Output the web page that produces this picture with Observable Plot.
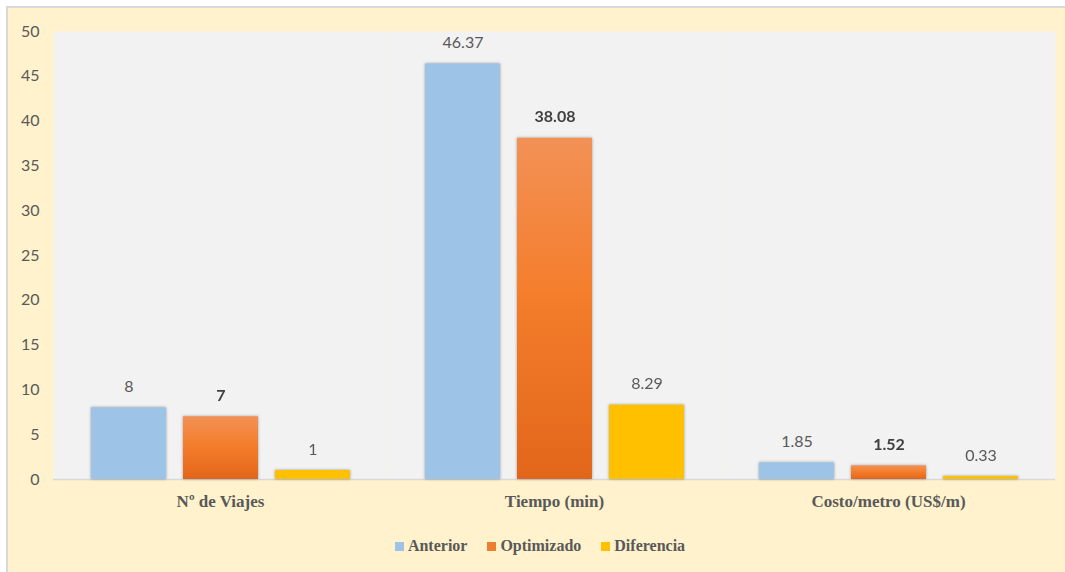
<!DOCTYPE html>
<html>
<head>
<meta charset="utf-8">
<script src="https://cdn.jsdelivr.net/npm/d3@7"></script>
<script src="https://cdn.jsdelivr.net/npm/@observablehq/plot@0.6"></script>
<style>
  html, body { margin: 0; padding: 0; background: #ffffff; width: 1065px; height: 572px; overflow: hidden; }
  #box { position: absolute; left: 6px; top: 6px; width: 1059px; height: 566px; background: #fff2cc;
         border-top: 2px solid #d9d9d9; border-left: 2px solid #d9d9d9; box-sizing: border-box; }
  #chart svg { display: block; }
  #legend { display: flex; justify-content: center; align-items: center; gap: 20px; margin-top: 24px;
            font-family: "Liberation Serif", serif; font-weight: bold; font-size: 16px; color: #595959; padding-left: 7px; }
  #legend .item { display: flex; align-items: center; gap: 4px; }
  #legend .sw { width: 9px; height: 9px; display: inline-block; }
</style>
</head>
<body>
<div id="box">
  <div id="chart"></div>
  <div id="legend"></div>
</div>
<script>
const categories = ["Nº de Viajes", "Tiempo (min)", "Costo/metro (US$/m)"];
const series = ["Anterior", "Optimizado", "Diferencia"];
const anterior = [8, 46.37, 1.85];
const optimizado = [7, 38.08, 1.52];
const diferencia = [1, 8.29, 0.33];
const yTicks = [0, 5, 10, 15, 20, 25, 30, 35, 40, 45, 50];
const seriesColors = ["#9dc3e6", "url(#gradOpt)", "#ffc000"];
const legendColors = ["#9dc3e6", "#ed7d31", "#ffc000"];

const valuesBySeries = [anterior, optimizado, diferencia];
const data = [];
categories.forEach((c, i) => {
  series.forEach((s, j) => {
    data.push({cat: c, series: s, value: valuesBySeries[j][i]});
  });
});

const chart = Plot.plot({
  width: 1057,
  height: 505,
  marginLeft: 44,
  marginRight: 10,
  marginTop: 23,
  marginBottom: 34,
  style: {fontFamily: "Lato, sans-serif", fontSize: "16px", color: "#595959", background: "transparent", overflow: "visible"},
  fx: {domain: categories, padding: 0, label: null},
  x: {domain: series, paddingInner: 0.19, paddingOuter: 0.4, axis: null},
  y: {domain: [0, 50], label: null},
  color: {domain: series, range: seriesColors},
  marks: [
    Plot.frame({fill: "#f2f2f2", stroke: null}),
    Plot.ruleY([0], {stroke: "#d9d9d9", strokeWidth: 1.5}),
    Plot.axisY({ticks: yTicks, tickSize: 0, tickPadding: 14, label: null, fontSize: 16, fill: "#595959"}),
    Plot.axisFx({anchor: "bottom", tickSize: 0, tickPadding: 15, label: null, fontFamily: "Liberation Serif, serif", fontWeight: "bold", fontSize: 17, fill: "#595959"}),
    Plot.barY(data, {fx: "cat", x: "series", y: "value", fill: "series"}),
    Plot.text(data.filter(d => d.series !== "Optimizado"), {fx: "cat", x: "series", y: "value", text: d => String(d.value), dy: -21, fill: "#595959", fontSize: 16}),
    Plot.text(data.filter(d => d.series === "Optimizado"), {fx: "cat", x: "series", y: "value", text: d => String(d.value), dy: -21, fill: "#404040", fontSize: 16, fontWeight: "bold"})
  ]
});

const svg = d3.select(chart.tagName.toLowerCase() === "svg" ? chart : chart.querySelector("svg"));
const defs = svg.insert("defs", ":first-child");
const grad = defs.append("linearGradient").attr("id", "gradOpt").attr("x1", 0).attr("y1", 0).attr("x2", 0).attr("y2", 1);
grad.append("stop").attr("offset", "0%").attr("stop-color", "#f29156");
grad.append("stop").attr("offset", "45%").attr("stop-color", "#f47e2c");
grad.append("stop").attr("offset", "100%").attr("stop-color", "#e2661a");
svg.selectAll('g[aria-label="bar"]').style("filter", "drop-shadow(0px 0px 1.5px rgba(0,0,0,0.35))");

document.getElementById("chart").appendChild(chart);

const legend = document.getElementById("legend");
series.forEach((s, j) => {
  const item = document.createElement("span");
  item.className = "item";
  const sw = document.createElement("span");
  sw.className = "sw";
  sw.style.background = legendColors[j];
  const t = document.createElement("span");
  t.textContent = s;
  item.appendChild(sw);
  item.appendChild(t);
  legend.appendChild(item);
});
</script>
</body>
</html>
